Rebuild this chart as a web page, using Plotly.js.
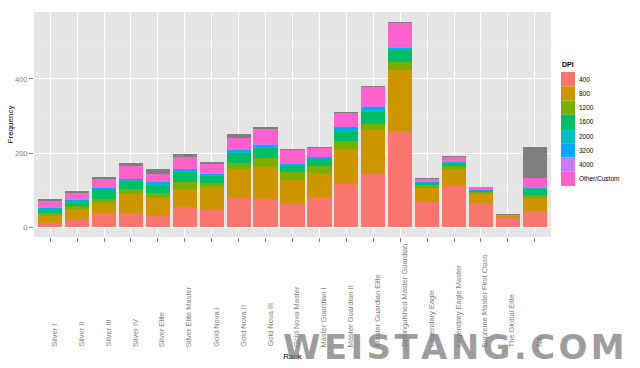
<!DOCTYPE html>
<html>
<head>
<meta charset="utf-8">
<script src="https://cdn.plot.ly/plotly-3.0.1.min.js"></script>
<style>html,body{margin:0;padding:0;background:#fff;}#chart{width:640px;height:368px;}</style>
</head>
<body>
<div id="chart"></div>
<script>
// ---- data ----
var ranks = ["Silver I","Silver II","Silver III","Silver IV","Silver Elite","Silver Elite Master",
  "Gold Nova I","Gold Nova II","Gold Nova III","Gold Nova Master","Master Guardian I",
  "Master Guardian II","Master Guardian Elite","Distinguished Master Guardian","Legendary Eagle",
  "Legendary Eagle Master","Supreme Master First Class","The Global Elite","NA"];
var dpiLevels = ["400","800","1200","1600","2000","3200","4000","Other/Custom","NA"];
var dpi400   = [12,18,37,39,30,55,47,78,77,63,81,115,142,259,68,113,64,26,43];
var dpi800   = [20,30,27,49,48,47,62,78,86,64,64,96,121,164,38,45,26,3,36];
var dpi1200  = [7,9,13,14,14,20,9,18,23,22,20,22,16,22,7,7,4,1,7];
var dpi1600  = [8,11,25,23,22,27,21,25,27,16,18,26,33,33,5,9,3,0,16];
var dpi2000  = [2,2,1,1,3,3,2,3,3,2,2,4,5,2,1,1,1,0,4];
var dpi3200  = [3,4,2,3,4,4,3,6,6,3,3,7,8,4,2,2,1,0,0];
var dpi4000  = [1,1,1,1,1,1,1,1,1,1,1,1,1,1,3,1,1,0,0];
var dpiOther = [16,16,23,36,22,33,26,31,42,37,24,37,51,66,6,12,7,2,27];
var dpiNA    = [6,6,5,6,12,7,6,11,4,2,4,4,4,3,2,2,2,3,84];
var series = [dpi400,dpi800,dpi1200,dpi1600,dpi2000,dpi3200,dpi4000,dpiOther,dpiNA];
var colors = ["#F8766D","#CD9600","#7CAE00","#00BE67","#00BFC4","#00A9FF","#C77CFF","#FF61CC","#7F7F7F"];
var yTicks = [0,200,400];
var watermark = "WEISTANG.COM";

// ---- geometry ----
var W = 640, H = 368;
var M = {l:34, r:89, t:12, b:131};
var plotW = W - M.l - M.r, plotH = H - M.t - M.b;
function px2paperX(px){ return (px - M.l) / plotW; }
function px2paperY(py){ return (H - M.b - py) / plotH; }

var FONT = "Liberation Sans, Arial, sans-serif";

var traces = series.map(function(vals, i){
  return {
    type: "bar", x: ranks, y: vals, name: dpiLevels[i],
    marker: {color: colors[i], line: {width: 0}},
    showlegend: false, hoverinfo: "x+y+name"
  };
});

var annotations = [];
// x tick labels (rotated, bottom-aligned like ggplot)
ranks.forEach(function(r){
  annotations.push({
    x: r, xref: "x", y: px2paperY(349), yref: "paper",
    text: r, textangle: -90, showarrow: false,
    xanchor: "center", yanchor: "bottom", xshift: 4,
    font: {family: FONT, size: 7.5, color: "#7F7F7F"}
  });
});

// manual ggplot-style legend
var shapes = [];
var keyTop = 72, keyH = 14.25, keyL = 561, keyR = 575;
annotations.push({
  x: px2paperX(keyL - 1), xref: "paper", y: px2paperY(keyTop - 2), yref: "paper",
  text: "<b>DPI</b>", showarrow: false, xanchor: "left", yanchor: "bottom",
  font: {family: FONT, size: 7, color: "#000"}
});
for (var i = 0; i < dpiLevels.length - 1; i++) {
  var y0 = keyTop + i * keyH;
  shapes.push({
    type: "rect", xref: "paper", yref: "paper",
    x0: px2paperX(keyL), x1: px2paperX(keyR),
    y0: px2paperY(y0), y1: px2paperY(y0 + keyH),
    fillcolor: colors[i], line: {width: 0}
  });
  annotations.push({
    x: px2paperX(keyR + 2), xref: "paper", y: px2paperY(y0 + keyH / 2), yref: "paper",
    text: dpiLevels[i], showarrow: false, xanchor: "left", yanchor: "middle",
    font: {family: FONT, size: 6.5, color: "#000"}
  });
}

// watermark (letter-spaced with hair spaces)
annotations.push({
  x: px2paperX(454), xref: "paper", y: px2paperY(347), yref: "paper",
  text: "<b>" + watermark.split("").join("\u200A") + "</b>", showarrow: false,
  xanchor: "center", yanchor: "middle",
  font: {family: "DejaVu Sans, sans-serif", size: 34, color: "rgba(120,120,120,0.72)"}
});

var layout = {
  width: W, height: H,
  margin: {l: M.l, r: M.r, t: M.t, b: M.b, pad: 0},
  paper_bgcolor: "#FFFFFF", plot_bgcolor: "#E5E5E5",
  barmode: "stack", bargap: 0.1,
  showlegend: false,
  font: {family: FONT},
  xaxis: {
    type: "category", categoryorder: "array", categoryarray: ranks,
    range: [-0.6, ranks.length - 0.4],
    showgrid: true, gridcolor: "#FFFFFF", gridwidth: 1,
    ticks: "outside", ticklen: 4, tickcolor: "#7F7F7F", tickwidth: 1,
    showticklabels: false, zeroline: false, showline: false,
    title: {text: "Rank", font: {family: FONT, size: 8, color: "#000"}, standoff: 112}
  },
  yaxis: {
    range: [-27, 581],
    tickmode: "array", tickvals: yTicks, ticktext: yTicks.map(String),
    ticks: "outside", ticklen: 4, tickcolor: "#7F7F7F", tickwidth: 1,
    tickfont: {family: FONT, size: 7.5, color: "#7F7F7F"},
    showgrid: true, gridcolor: "#FFFFFF", gridwidth: 1,
    minor: {tickvals: [100, 300, 500], showgrid: true, gridcolor: "#F2F2F2", gridwidth: 0.5, ticks: ""},
    zeroline: false, showline: false,
    title: {text: "Frequency", font: {family: FONT, size: 8, color: "#000"}, standoff: 0}
  },
  annotations: annotations,
  shapes: shapes
};

Plotly.newPlot("chart", traces, layout, {staticPlot: true, displayModeBar: false});
</script>
</body>
</html>
